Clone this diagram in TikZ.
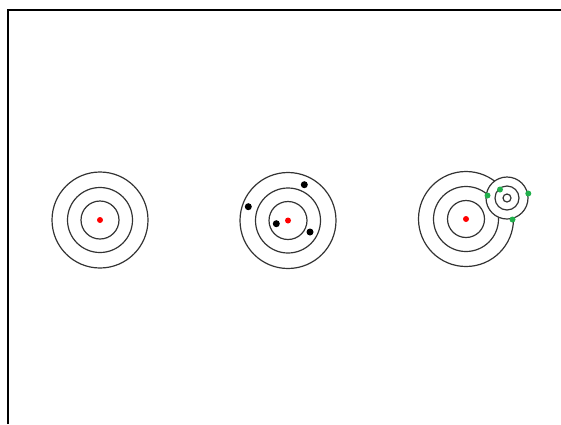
\documentclass[tikz,border=0pt]{standalone}
\usepackage{tikz}
\usetikzlibrary{positioning}
\definecolor{Red}{rgb}{1,0,0}
\definecolor{Green}{rgb}{0.13,0.69,0.30}
\tikzstyle{ring}=[%
      circle, draw=black!80, line width=1.2pt, fill=none,
      inner sep=0pt, outer sep=0pt
]
\tikzstyle{hole}=[%
      circle, draw=black!80, line width=1.2pt, fill=white,
      inner sep=0pt, outer sep=0pt
]
\tikzstyle{bull}=[circle, fill=Red, inner sep=0pt, minimum size=6pt]
\tikzstyle{shot}=[circle, fill=black, inner sep=0pt, minimum size=7pt]
\tikzstyle{cut}=[circle, fill=Green, inner sep=0pt, minimum size=6pt]

\begin{document}
\begin{tikzpicture}[x=1pt, y=-1pt]
    \useasboundingbox (0,0) rectangle (561,424);
    \draw[line width=2pt] (8,424) -- (8,10) -- (561,10);

    % first target
    \node[ring, minimum size=96pt] (a3) at (100,220) {};
    \node[ring, minimum size=65pt] (a2) at (a3.center) {};
    \node[ring, minimum size=38pt] (a1) at (a3.center) {};
    \node[bull] (a0) at (a3.center) {};

    % second target with shots
    \node[ring, minimum size=96pt] (b3) at (288,220.5) {};
    \node[ring, minimum size=65pt] (b2) at (b3.center) {};
    \node[ring, minimum size=38pt] (b1) at (b3.center) {};
    \node[bull] (b0) at (b3.center) {};
    \node[shot] (s1) at (304.3,184.7) {};
    \node[shot] (s2) at (248.3,206.7) {};
    \node[shot] (s3) at (276.3,223.7) {};
    \node[shot] (s4) at (310,232) {};

    % third target and the small one on top
    \node[ring, minimum size=95pt] (c3) at (466,219) {};
    \node[ring, minimum size=65pt] (c2) at (c3.center) {};
    \node[ring, minimum size=37pt] (c1) at (c3.center) {};
    \node[bull] (c0) at (c3.center) {};
    \node[hole, minimum size=42pt] (d3) at (507,198) {};
    \node[ring, minimum size=24pt] (d2) at (d3.center) {};
    \node[ring, minimum size=8pt] (d1) at (d3.center) {};
    \node[cut] (g1) at (487.5,195.5) {};
    \node[cut] (g2) at (500,189.5) {};
    \node[cut] (g3) at (528.3,193.5) {};
    \node[cut] (g4) at (512.5,219.5) {};
\end{tikzpicture}
\end{document}
